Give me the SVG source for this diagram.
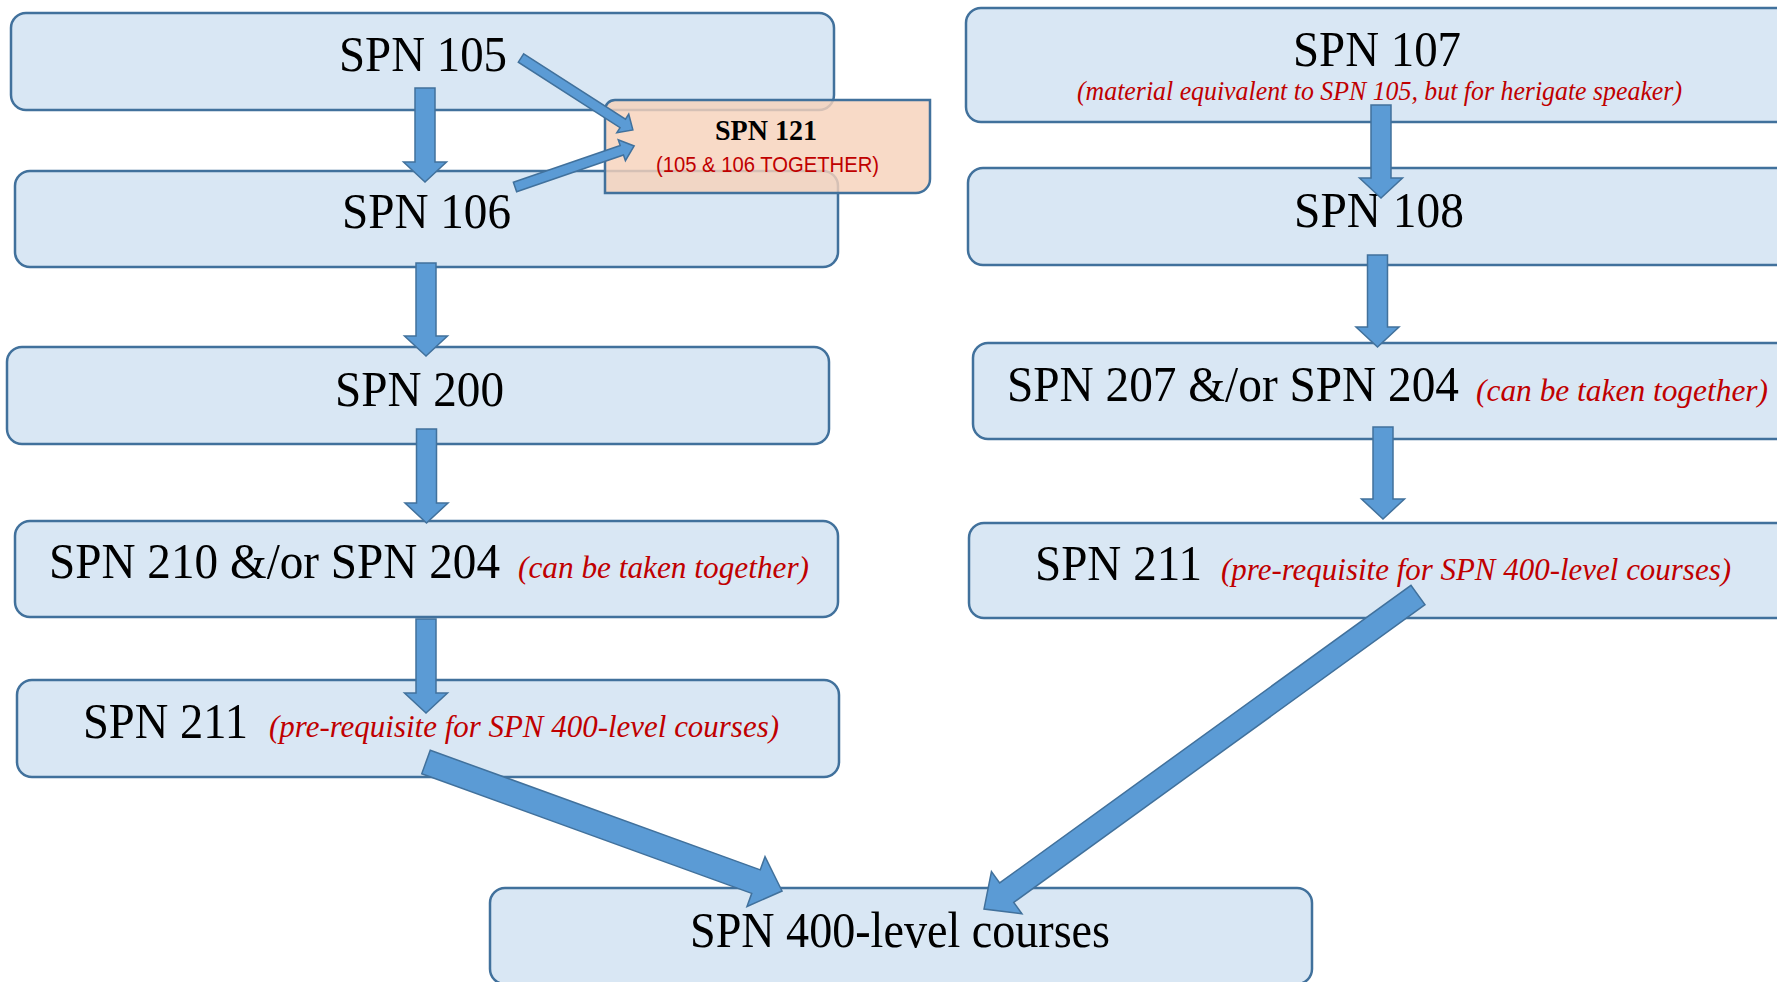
<svg xmlns="http://www.w3.org/2000/svg" width="1777" height="982" viewBox="0 0 1777 982">
<defs>
<style>
.box{fill:#D9E7F4;stroke:#41719C;stroke-width:2.5}
.peach{fill:#F7D2BB;fill-opacity:0.82;stroke:#41719C;stroke-width:2.5}
.arr{fill:#5B9BD5;stroke:#41719C;stroke-width:1.5;stroke-linejoin:miter}
.t{font-family:"Liberation Serif",serif;font-size:51px;fill:#000}
.r{font-family:"Liberation Serif",serif;font-style:italic;font-size:32px;fill:#C00000}
.rs{font-family:"Liberation Serif",serif;font-style:italic;font-size:27px;fill:#C00000}
.b{font-family:"Liberation Serif",serif;font-weight:bold;font-size:29px;fill:#000}
.s{font-family:"Liberation Sans",sans-serif;font-size:22px;fill:#C00000}
</style>
</defs>
<rect width="1777" height="982" fill="#FFFFFF"/>
<g id="spn105"><rect class="box" x="11" y="13" width="823" height="97" rx="15"/>
<text class="t" x="339" y="71" textLength="168" lengthAdjust="spacingAndGlyphs">SPN 105</text></g>
<g id="spn106"><rect class="box" x="15" y="171" width="823" height="96" rx="15"/>
<text class="t" x="342" y="228" textLength="169" lengthAdjust="spacingAndGlyphs">SPN 106</text></g>
<g id="spn200"><rect class="box" x="7" y="347" width="822" height="97" rx="15"/>
<text class="t" x="335" y="406" textLength="169" lengthAdjust="spacingAndGlyphs">SPN 200</text></g>
<g id="spn210"><rect class="box" x="15" y="521" width="823" height="96" rx="15"/>
<text class="t" x="49" y="578" textLength="451" lengthAdjust="spacingAndGlyphs">SPN 210 &amp;/or SPN 204</text>
<text class="r" x="518" y="578" textLength="291" lengthAdjust="spacingAndGlyphs">(can be taken together)</text></g>
<g id="spn211a"><rect class="box" x="17" y="680" width="822" height="97" rx="15"/>
<text class="t" x="83" y="738" textLength="165" lengthAdjust="spacingAndGlyphs">SPN 211</text>
<text class="r" x="269" y="737" textLength="510" lengthAdjust="spacingAndGlyphs">(pre-requisite for SPN 400-level courses)</text></g>
<g id="spn107"><rect class="box" x="966" y="8" width="830" height="114" rx="15"/>
<text class="t" x="1293" y="66" textLength="168" lengthAdjust="spacingAndGlyphs">SPN 107</text>
<text class="rs" x="1077" y="100" textLength="605" lengthAdjust="spacingAndGlyphs">(material equivalent to SPN 105, but for herigate speaker)</text></g>
<g id="spn108"><rect class="box" x="968" y="168" width="830" height="97" rx="15"/>
<text class="t" x="1294" y="227" textLength="170" lengthAdjust="spacingAndGlyphs">SPN 108</text></g>
<g id="spn207"><rect class="box" x="973" y="343" width="830" height="96" rx="15"/>
<text class="t" x="1007" y="401" textLength="452" lengthAdjust="spacingAndGlyphs">SPN 207 &amp;/or SPN 204</text>
<text class="r" x="1476" y="401" textLength="292" lengthAdjust="spacingAndGlyphs">(can be taken together)</text></g>
<g id="spn211b"><rect class="box" x="969" y="523" width="830" height="95" rx="15"/>
<text class="t" x="1035" y="580" textLength="167" lengthAdjust="spacingAndGlyphs">SPN 211</text>
<text class="r" x="1221" y="580" textLength="510" lengthAdjust="spacingAndGlyphs">(pre-requisite for SPN 400-level courses)</text></g>
<g id="spn400"><rect class="box" x="490" y="888" width="822" height="96" rx="15"/>
<text class="t" x="690" y="947" textLength="420" lengthAdjust="spacingAndGlyphs">SPN 400-level courses</text></g>
<g id="spn121"><path class="peach" d="M615,100 H930 V179 A14,14 0 0 1 916,193 H605 V110 A10,10 0 0 1 615,100 Z"/>
<text class="b" x="715" y="140" textLength="102" lengthAdjust="spacingAndGlyphs">SPN 121</text>
<text class="s" x="656" y="172" textLength="223" lengthAdjust="spacingAndGlyphs">(105 &amp; 106 TOGETHER)</text></g>
<g id="connectors">
<path class="arr" d="M415,88 H435 V162 H446.5 L425,182 L403.5,162 H415 Z"/>
<path class="arr" d="M416,263 H436 V336 H447.5 L426,356 L404.5,336 H416 Z"/>
<path class="arr" d="M416.5,429 H436.5 V503 H448 L426.5,523 L405,503 H416.5 Z"/>
<path class="arr" d="M416,619 H436 V693 H447.5 L426,713 L404.5,693 H416 Z"/>
<path class="arr" d="M1371,105 H1391 V178 H1402.5 L1381,198 L1359.5,178 H1371 Z"/>
<path class="arr" d="M1367.5,255 H1387.5 V327 H1399 L1377.5,347 L1356,327 H1367.5 Z"/>
<path class="arr" d="M1373,427 H1393 V499 H1404.5 L1383,519 L1361.5,499 H1373 Z"/>
<path class="arr" transform="translate(521,58) rotate(32.74)" d="M0,-5 H121 V-11 L133,0 L121,11 V5 H0 Z"/>
<path class="arr" transform="translate(515,187) rotate(-19)" d="M0,-5 H113 V-11 L126,0 L113,11 V5 H0 Z"/>
<path class="arr" transform="translate(426,762) rotate(19.92)" d="M0,-12.5 H351 V-26.5 L378.7,0 L351,26.5 V12.5 H0 Z"/>
<path class="arr" transform="translate(1418,595) rotate(144.11)" d="M0,-12 H507.7 V-26 L535.7,0 L507.7,26 V12 H0 Z"/>
</g>
</svg>
